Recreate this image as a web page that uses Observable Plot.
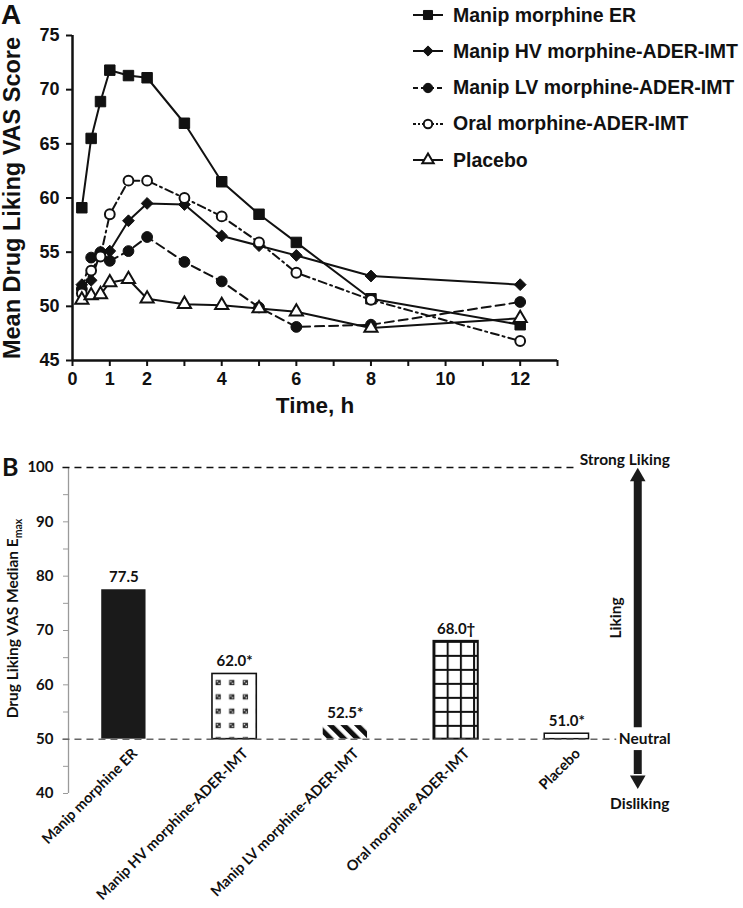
<!DOCTYPE html>
<html>
<head>
<meta charset="utf-8">
<script src="https://cdn.jsdelivr.net/npm/d3@7"></script>
<script src="https://cdn.jsdelivr.net/npm/@observablehq/plot@0.6"></script>
<style>
  body { margin: 0; background: #fff; }
  #wrap { position: relative; width: 743px; height: 908px; overflow: hidden; background: #fff; }
  #wrap svg { display: block; }
  .panel-label { position: absolute; font-weight: bold; color: #111; line-height: 1; }
  #legend { position: absolute; left: 412px; top: 0; font-family: "Liberation Sans", Arial, sans-serif; font-weight: bold; font-size: 19.5px; color: #111; }
  .lg-row { position: absolute; left: 0; height: 24px; white-space: nowrap; display: flex; align-items: center; }
  .lg-row svg { margin-right: 9px; }
</style>
</head>
<body>
<div id="wrap"></div>
<script>
// ---------------- Panel A data ----------------
const times = [0.25, 0.5, 0.75, 1, 1.5, 2, 3, 4, 5, 6, 8, 12];
const seriesNames = ["Manip morphine ER", "Manip HV morphine-ADER-IMT", "Manip LV morphine-ADER-IMT", "Oral morphine-ADER-IMT", "Placebo"];
const erScores      = [59.1, 65.5, 68.9, 71.8, 71.3, 71.1, 66.9, 61.5, 58.5, 55.9, 50.7, 48.3];
const hvScores      = [52.0, 52.4, 55.0, 55.1, 57.9, 59.5, 59.4, 56.5, 55.6, 54.7, 52.8, 52.0];
const lvScores      = [51.6, 54.5, 55.0, 54.2, 55.1, 56.4, 54.1, 52.3, 49.9, 48.1, 48.3, 50.4];
const oralScores    = [51.2, 53.3, 54.6, 58.5, 61.6, 61.6, 60.0, 58.3, 55.9, 53.1, 50.6, 46.8];
const placeboScores = [50.6, 51.0, 51.1, 52.2, 52.5, 50.7, 50.2, 50.1, 49.8, 49.5, 48.0, 48.9];
const timeTicks = [0, 1, 2, 3, 4, 5, 6, 7, 8, 9, 10, 11, 12, 13];
const timeTickLabels = [0, 1, 2, 4, 6, 8, 10, 12];
const scoreTicks = [45, 50, 55, 60, 65, 70, 75];
const timeDomain = [0, 13];
const scoreDomain = [45, 75];

// ---------------- Panel B data ----------------
const emaxCategories = ["Manip morphine ER", "Manip HV morphine-ADER-IMT", "Manip LV morphine-ADER-IMT", "Oral morphine ADER-IMT", "Placebo"];
const emaxValues = [77.5, 62.0, 52.5, 68.0, 51.0];
const emaxLabels = ["77.5", "62.0*", "52.5*", "68.0\u2020", "51.0*"];
const emaxTicks = [40, 45, 50, 55, 60, 65, 70, 75, 80, 85, 90, 95, 100];
const emaxTickLabels = [40, 50, 60, 70, 80, 90, 100];
const emaxDomain = [40, 100];
const neutralScore = 50;
const strongScore = 100;
const dislikingLabelScore = 38;
const likingLabelScore = 72.3;

// ---------------- styles ----------------
const seriesArrays = [erScores, hvScores, lvScores, oralScores, placeboScores];
const seriesStyle = {
  "Manip morphine ER":          {symbol: "square",   d3sym: d3.symbolSquare,   fill: "#111", dash: null,        r: 5.9, sw: 1},
  "Manip HV morphine-ADER-IMT": {symbol: "diamond2", d3sym: d3.symbolDiamond2, fill: "#111", dash: null,        r: 5.3, sw: 1},
  "Manip LV morphine-ADER-IMT": {symbol: "circle",   d3sym: d3.symbolCircle,   fill: "#111", dash: "9,5",       r: 5.4, sw: 1},
  "Oral morphine-ADER-IMT":     {symbol: "circle",   d3sym: d3.symbolCircle,   fill: "#fff", dash: "8,4,2,4",   r: 4.9, sw: 2},
  "Placebo":                    {symbol: "triangle", d3sym: d3.symbolTriangle, fill: "#fff", dash: null,        r: 4.9, sw: 2}
};
const barStyle = {
  "Manip morphine ER":          {fill: "#1a1a1a",     stroke: "none", sw: 0},
  "Manip HV morphine-ADER-IMT": {fill: "url(#pHV)",   stroke: "#111", sw: 1.6},
  "Manip LV morphine-ADER-IMT": {fill: "url(#pLV)",   stroke: "none", sw: 0},
  "Oral morphine ADER-IMT":     {fill: "url(#pOral)", stroke: "#111", sw: 2},
  "Placebo":                    {fill: "#fff",        stroke: "#111", sw: 1.5}
};

const rowsA = seriesNames.flatMap((s, k) => times.map((t, i) => ({series: s, t, v: seriesArrays[k][i]})));
const wrap = document.getElementById("wrap");

// ---------------- Panel A ----------------
const fontA = "'Liberation Sans', Arial, sans-serif";
const marksA = [
  Plot.axisX({ticks: timeTicks, tickFormat: t => timeTickLabels.includes(t) ? String(t) : "", tickSize: 6, tickPadding: 6, strokeWidth: 2, fontSize: 18, fontWeight: "bold", label: null}),
  Plot.axisY({ticks: scoreTicks, tickSize: 6, tickPadding: 7, strokeWidth: 2, fontSize: 18, fontWeight: "bold", label: null}),
  Plot.ruleX([timeDomain[0]], {strokeWidth: 2.5, stroke: "#111"}),
  Plot.ruleY([scoreDomain[0]], {strokeWidth: 2.5, stroke: "#111"})
];
seriesNames.forEach(s => {
  const st = seriesStyle[s];
  marksA.push(Plot.line(rowsA.filter(d => d.series === s), {x: "t", y: "v", stroke: "#111", strokeWidth: 2, strokeDasharray: st.dash || undefined}));
});
seriesNames.forEach(s => {
  const st = seriesStyle[s];
  marksA.push(Plot.dot(rowsA.filter(d => d.series === s), {x: "t", y: "v", symbol: st.symbol, r: st.r, fill: st.fill, stroke: "#111", strokeWidth: st.sw}));
});
marksA.push(Plot.text(["Time, h"], {text: d => d, frameAnchor: "bottom", dy: 52, fontSize: 22.5, fontWeight: "bold"}));
marksA.push(Plot.text(["Mean Drug Liking VAS Score"], {text: d => d, frameAnchor: "left", textAnchor: "middle", rotate: -90, dx: -60, fontSize: 23.5, fontWeight: "bold"}));

const plotA = Plot.plot({
  width: 743, height: 425,
  marginLeft: 72, marginRight: 186, marginTop: 35, marginBottom: 65,
  x: {domain: timeDomain},
  y: {domain: scoreDomain},
  style: {fontFamily: fontA, color: "#111", background: "white", overflow: "visible"},
  marks: marksA
});
wrap.appendChild(plotA);

// legend (HTML, over panel A)
const legend = d3.select(wrap).append("div").attr("id", "legend");
seriesNames.forEach((s, i) => {
  const st = seriesStyle[s];
  const row = legend.append("div").attr("class", "lg-row").style("top", (3 + i * 36.3) + "px");
  const svg = row.append("svg").attr("width", 32).attr("height", 24);
  svg.append("line").attr("x1", 1).attr("x2", 31).attr("y1", 12).attr("y2", 12)
    .attr("stroke", "#111").attr("stroke-width", 2).attr("stroke-dasharray", st.dash ? (st.dash === "9,5" ? "5,3" : "3,2,2,2") : null);
  svg.append("path").attr("transform", "translate(16,12)")
    .attr("d", d3.symbol(st.d3sym, Math.PI * st.r * st.r * 0.75)())
    .attr("fill", st.fill).attr("stroke", "#111").attr("stroke-width", st.sw);
  row.append("span").text(s);
});

d3.select(wrap).append("div").attr("class", "panel-label")
  .style("left", "1px").style("top", "1px").style("font-family", fontA).style("font-size", "28px").text("A");

// ---------------- Panel B ----------------
const fontB = "Lato, 'Open Sans', sans-serif";
const bars = emaxCategories.map((c, i) => ({cat: c, i, value: emaxValues[i], label: emaxLabels[i]}));
const barHalf = 0.2;
const xDomainB = [-0.5, 5.5];
const annotX = 4.64;

const plotB = Plot.plot({
  width: 743, height: 483,
  marginLeft: 68, marginRight: 10.5, marginTop: 42, marginBottom: 115,
  x: {domain: xDomainB, axis: null},
  y: {domain: emaxDomain},
  color: {type: "identity"},
  style: {fontFamily: fontB, color: "#111", background: "white", overflow: "visible"},
  marks: [
    Plot.ruleX([xDomainB[0]], {stroke: "#9a9a9a", strokeWidth: 1.3}),
    Plot.axisY({ticks: emaxTicks, tickFormat: v => emaxTickLabels.includes(v) ? String(v) : "", tickSize: 5, tickPadding: 10, stroke: "#9a9a9a", fill: "#111", fontSize: 15, fontWeight: "bold", label: null}),
    Plot.ruleY([strongScore], {x1: xDomainB[0] - 0.05, x2: 4.08, stroke: "#111", strokeWidth: 1.5, strokeDasharray: "7,5"}),
    Plot.rectY(bars, {x1: d => d.i - barHalf, x2: d => d.i + barHalf, y1: neutralScore, y2: "value",
      fill: d => barStyle[d.cat].fill, stroke: d => barStyle[d.cat].stroke, strokeWidth: d => barStyle[d.cat].sw}),
    Plot.ruleY([neutralScore], {x1: xDomainB[0] - 0.05, x2: 4.45, stroke: "#666", strokeWidth: 1.5, strokeDasharray: "7,5"}),
    Plot.text(bars, {x: "i", y: "value", text: "label", dy: -12.5, fontSize: 15, fontWeight: "bold"}),
    Plot.text(bars, {x: "i", y: neutralScore, text: "cat", rotate: -45, textAnchor: "end", lineAnchor: "top", dx: 7, dy: 8, fontSize: 14.5, fontWeight: "bold"}),
    // liking scale arrow
    Plot.ruleX([annotX], {y1: 52.1, y2: 97.5, stroke: "#1a1a1a", strokeWidth: 8}),
    Plot.ruleX([annotX], {y1: 47.9, y2: 43.5, stroke: "#1a1a1a", strokeWidth: 8}),
    Plot.dot([annotX], {x: d => d, y: 98.3, symbol: "triangle", r: 5.8, fill: "#1a1a1a", stroke: "none"}),
    Plot.dot([annotX], {x: d => d, y: 42.5, symbol: "triangle", r: 5.8, rotate: 180, fill: "#1a1a1a", stroke: "none"}),
    Plot.text(["Strong Liking"], {x: annotX, y: strongScore, text: d => d, dx: -13, dy: -7, fontSize: 15.5, fontWeight: "bold"}),
    Plot.text(["Neutral"], {x: annotX, y: neutralScore, text: d => d, dx: 7, fontSize: 15.5, fontWeight: "bold"}),
    Plot.text(["Disliking"], {x: annotX, y: dislikingLabelScore, text: d => d, dx: 2, fontSize: 15.5, fontWeight: "bold"}),
    Plot.text(["Liking"], {x: annotX, y: likingLabelScore, text: d => d, rotate: -90, dx: -22, fontSize: 15.5, fontWeight: "bold"}),
    Plot.text(["Drug Liking VAS Median E"], {text: d => d, frameAnchor: "left", textAnchor: "middle", rotate: -90, dx: -55, dy: -12, fontSize: 15.5, fontWeight: "bold"})
  ]
});
wrap.appendChild(plotB);

// subscript for E_max
d3.select(plotB).selectAll("text").filter(function () { return this.textContent === "Drug Liking VAS Median E"; })
  .append("tspan").attr("dy", "0.3em").attr("font-size", "10.5px").text("max");

// patterns
const xs = plotB.scale("x"), ys = plotB.scale("y");
const hvIdx = emaxCategories.indexOf("Manip HV morphine-ADER-IMT");
const oralIdx = emaxCategories.indexOf("Oral morphine ADER-IMT");
const defs = d3.select(plotB).insert("defs", ":first-child");
const pHV = defs.append("pattern").attr("id", "pHV").attr("patternUnits", "userSpaceOnUse")
  .attr("width", 13.6).attr("height", 14.3)
  .attr("x", xs.apply(hvIdx - barHalf)).attr("y", ys.apply(emaxValues[hvIdx]) + 2);
pHV.append("rect").attr("width", 13.6).attr("height", 14.3).attr("fill", "#fff");
pHV.append("rect").attr("x", 3.6).attr("y", 4.5).attr("width", 5.2).attr("height", 5.2).attr("fill", "#2a2a2a");
pHV.append("rect").attr("x", 4.6).attr("y", 5.5).attr("width", 1.4).attr("height", 1.4).attr("fill", "#ddd");
pHV.append("rect").attr("x", 6.4).attr("y", 7.3).attr("width", 1.4).attr("height", 1.4).attr("fill", "#ddd");
const pLV = defs.append("pattern").attr("id", "pLV").attr("patternUnits", "userSpaceOnUse")
  .attr("width", 9.5).attr("height", 9.5).attr("patternTransform", "rotate(-45)");
pLV.append("rect").attr("width", 9.5).attr("height", 9.5).attr("fill", "#fff");
pLV.append("rect").attr("width", 5).attr("height", 9.5).attr("fill", "#111");
const pOral = defs.append("pattern").attr("id", "pOral").attr("patternUnits", "userSpaceOnUse")
  .attr("width", 13.2).attr("height", 14)
  .attr("x", xs.apply(oralIdx - barHalf)).attr("y", ys.apply(emaxValues[oralIdx]));
pOral.append("rect").attr("width", 13.2).attr("height", 14).attr("fill", "#fff");
pOral.append("path").attr("d", "M1,0V14M0,1H13.2").attr("stroke", "#111").attr("stroke-width", 2);

d3.select(wrap).append("div").attr("class", "panel-label")
  .style("left", "2px").style("top", "454px").style("font-family", fontB).style("font-size", "25px").text("B");
</script>
</body>
</html>
